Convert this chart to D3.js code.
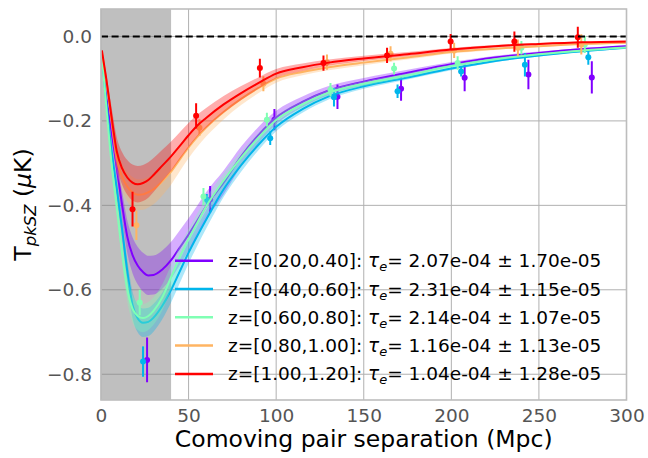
<!DOCTYPE html>
<html><head><meta charset="utf-8">
<script src="https://cdn.jsdelivr.net/npm/d3@7"></script>
<style>
html,body{margin:0;padding:0;background:#fff;}
svg{display:block;font-family:"DejaVu Sans",sans-serif;}
</style></head>
<body>
<svg id="chart" width="648" height="458"></svg>
<script>
// ---------- data ----------
const seriesNames = ["0.20,0.40", "0.40,0.60", "0.60,0.80", "0.80,1.00", "1.00,1.20"];
const seriesColors = ["#8000ff", "#00b5eb", "#80ffb4", "#ffb462", "#ff0000"];
const tau    = [2.07e-4, 2.31e-4, 2.14e-4, 1.16e-4, 1.04e-4];
const tauErr = [1.70e-5, 1.15e-5, 1.07e-5, 1.13e-5, 1.28e-5];

// model curves sampled at these separations (Mpc)
const curveX = [0.5, 3, 6, 9, 12, 15, 18, 21, 24, 27, 30, 35, 40, 45, 50, 55, 60, 70, 80, 90, 100, 115, 130, 150, 175, 200, 225, 250, 275, 300];
const curvePurple = [-0.040, -0.140, -0.225, -0.310, -0.398, -0.474, -0.518, -0.543, -0.558, -0.566, -0.565, -0.552, -0.530, -0.500, -0.469, -0.436, -0.402, -0.346, -0.284, -0.233, -0.192, -0.155, -0.128, -0.107, -0.086, -0.066, -0.050, -0.039, -0.030, -0.023];
const curveCyan   = [-0.045, -0.155, -0.268, -0.360, -0.455, -0.556, -0.636, -0.668, -0.678, -0.676, -0.666, -0.638, -0.600, -0.556, -0.512, -0.472, -0.434, -0.362, -0.305, -0.256, -0.214, -0.172, -0.142, -0.118, -0.097, -0.076, -0.058, -0.045, -0.035, -0.027];
const curveGreen  = [-0.045, -0.165, -0.300, -0.405, -0.510, -0.598, -0.645, -0.662, -0.667, -0.662, -0.650, -0.618, -0.570, -0.522, -0.480, -0.441, -0.403, -0.341, -0.287, -0.239, -0.198, -0.161, -0.133, -0.112, -0.092, -0.070, -0.054, -0.042, -0.033, -0.026];
const curveOrange = [-0.035, -0.105, -0.200, -0.290, -0.332, -0.356, -0.369, -0.375, -0.374, -0.369, -0.362, -0.343, -0.320, -0.291, -0.263, -0.238, -0.216, -0.179, -0.148, -0.122, -0.100, -0.084, -0.073, -0.062, -0.050, -0.037, -0.029, -0.023, -0.018, -0.015];
const curveRed    = [-0.033, -0.100, -0.190, -0.272, -0.312, -0.334, -0.346, -0.350, -0.347, -0.340, -0.328, -0.306, -0.284, -0.259, -0.234, -0.211, -0.193, -0.161, -0.134, -0.110, -0.088, -0.073, -0.062, -0.052, -0.042, -0.031, -0.023, -0.018, -0.014, -0.012];

// measured points with error bars
const ptsXPurple = [26.3, 62.3, 99.0, 135.0, 171.3, 207.6, 244.0, 280.2];
const ptsYPurple = [-0.766, -0.386, -0.197, -0.143, -0.124, -0.098, -0.090, -0.097];
const ptsEPurple = [0.053, 0.032, 0.025, 0.029, 0.028, 0.032, 0.035, 0.038];
const ptsXCyan = [24.0, 60.4, 96.6, 133.0, 169.3, 205.6, 242.0, 278.2];
const ptsYCyan = [-0.770, -0.387, -0.241, -0.144, -0.130, -0.083, -0.067, -0.049];
const ptsECyan = [0.036, 0.014, 0.016, 0.022, 0.016, 0.012, 0.028, 0.018];
const ptsXGreen = [22.1, 58.5, 94.7, 131.0, 167.3, 203.6, 240.0, 276.2];
const ptsYGreen = [-0.630, -0.379, -0.197, -0.126, -0.076, -0.063, -0.027, -0.019];
const ptsEGreen = [0.030, 0.020, 0.016, 0.016, 0.014, 0.016, 0.016, 0.020];
const ptsXOrange = [20.2, 56.2, 92.7, 129.0, 165.3, 201.6, 238.0, 274.2];
const ptsYOrange = [-0.447, -0.216, -0.112, -0.061, -0.041, -0.033, -0.027, -0.019];
const ptsEOrange = [0.035, 0.020, 0.018, 0.018, 0.018, 0.018, 0.020, 0.024];
const ptsXRed = [18.0, 54.3, 90.7, 127.0, 163.3, 199.6, 236.0, 272.2];
const ptsYRed = [-0.409, -0.188, -0.075, -0.063, -0.045, -0.012, -0.012, -0.002];
const ptsERed = [0.041, 0.030, 0.022, 0.018, 0.018, 0.018, 0.024, 0.025];

const xTicks = [0, 50, 100, 150, 200, 250, 300];
const yTicks = [0.0, -0.2, -0.4, -0.6, -0.8];
const shadedRange = [0, 40];

// ---------- build ----------
const curves = [curvePurple, curveCyan, curveGreen, curveOrange, curveRed];
const ptsX = [ptsXPurple, ptsXCyan, ptsXGreen, ptsXOrange, ptsXRed];
const ptsY = [ptsYPurple, ptsYCyan, ptsYGreen, ptsYOrange, ptsYRed];
const ptsE = [ptsEPurple, ptsECyan, ptsEGreen, ptsEOrange, ptsERed];

const svg = d3.select("#chart");
const L = 101, R = 626.5, T = 9, B = 400;
const x = d3.scaleLinear().domain([0, 300]).range([L, R]);
const y = d3.scaleLinear().domain([-0.861, 0.065]).range([B, T]);

svg.append("defs").append("clipPath").attr("id", "clip")
  .append("rect").attr("x", L).attr("y", T).attr("width", R - L).attr("height", B - T);

// grid
const grid = svg.append("g");
grid.selectAll(".gx").data(xTicks).join("line")
  .attr("x1", d => x(d)).attr("x2", d => x(d)).attr("y1", T).attr("y2", B)
  .attr("stroke", "#b0b0b0").attr("stroke-width", 1);
grid.selectAll(".gy").data(yTicks).join("line")
  .attr("y1", d => y(d)).attr("y2", d => y(d)).attr("x1", L).attr("x2", R)
  .attr("stroke", "#b0b0b0").attr("stroke-width", 1);

const plot = svg.append("g").attr("clip-path", "url(#clip)");

// shaded region
plot.append("rect")
  .attr("x", x(shadedRange[0])).attr("width", x(shadedRange[1]) - x(shadedRange[0]))
  .attr("y", T).attr("height", B - T)
  .attr("fill", "#808080").attr("fill-opacity", 0.5);

const line = d3.line().x(d => x(d[0])).y(d => y(d[1])).curve(d3.curveMonotoneX);
const area = d3.area().x(d => x(d[0])).y0(d => y(d[1])).y1(d => y(d[2])).curve(d3.curveMonotoneX);

curves.forEach((c, i) => {
  const frac = tauErr[i] / tau[i];
  const pts = curveX.map((xv, k) => [xv, c[k]]);
  const band = curveX.map((xv, k) => [xv, c[k] * (1 - frac), c[k] * (1 + frac)]);
  const g = plot.append("g");
  // error bars
  ptsX[i].forEach((xv, k) => {
    g.append("line").attr("x1", x(xv)).attr("x2", x(xv))
      .attr("y1", y(ptsY[i][k] - ptsE[i][k])).attr("y2", y(ptsY[i][k] + ptsE[i][k]))
      .attr("stroke", seriesColors[i]).attr("stroke-width", 2);
    g.append("circle").attr("cx", x(xv)).attr("cy", y(ptsY[i][k])).attr("r", 3)
      .attr("fill", seriesColors[i]);
  });
  g.append("path").datum(pts).attr("d", line)
    .attr("fill", "none").attr("stroke", seriesColors[i]).attr("stroke-width", 2);
  g.append("path").datum(band).attr("d", area)
    .attr("fill", seriesColors[i]).attr("fill-opacity", 0.32).attr("stroke", "none");
});

// zero line
plot.append("line").attr("x1", L).attr("x2", R).attr("y1", y(0)).attr("y2", y(0))
  .attr("stroke", "#000").attr("stroke-width", 1.9).attr("stroke-dasharray", "7,3.6");

// frame
svg.append("rect").attr("x", L).attr("y", T).attr("width", R - L).attr("height", B - T)
  .attr("fill", "none").attr("stroke", "#bdbdbd").attr("stroke-width", 1.6);

// axes
const xAxis = svg.append("g").attr("transform", `translate(0,${B})`)
  .call(d3.axisBottom(x).tickValues(xTicks).tickSize(0).tickPadding(9).tickFormat(d3.format("d")));
const yAxis = svg.append("g").attr("transform", `translate(${L},0)`)
  .call(d3.axisLeft(y).tickValues(yTicks).tickSize(0).tickPadding(9).tickFormat(d3.format(".1f")));
[xAxis, yAxis].forEach(a => {
  a.select(".domain").remove();
  a.selectAll("text").attr("fill", "#555").attr("font-size", 18.5)
    .attr("font-family", "DejaVu Sans, sans-serif");
});

// axis labels
svg.append("text").attr("x", (L + R) / 2).attr("y", 447).attr("text-anchor", "middle")
  .attr("font-size", 23.5).attr("fill", "#000").text("Comoving pair separation (Mpc)");
const yl = svg.append("text").attr("transform", `translate(31,${(T + B) / 2}) rotate(-90)`)
  .attr("text-anchor", "middle").attr("font-size", 23.5).attr("fill", "#000");
yl.append("tspan").text("T");
yl.append("tspan").attr("font-style", "italic").attr("font-size", 16.5).attr("dy", 5).text("pkSZ");
yl.append("tspan").attr("dy", -5).text(" (");
yl.append("tspan").attr("font-style", "italic").text("μ");
yl.append("tspan").text("K)");

// legend
const fmtE = v => {
  const [m, e] = v.toExponential(2).split("e");
  const sign = e[0] === "-" ? "-" : "+";
  const n = Math.abs(+e);
  return m + "e" + sign + (n < 10 ? "0" + n : n);
};
const legY0 = 260.7, legDy = 28.3;
seriesNames.forEach((nm, i) => {
  const yy = legY0 + i * legDy;
  svg.append("line").attr("x1", 175).attr("x2", 213).attr("y1", yy).attr("y2", yy)
    .attr("stroke", seriesColors[i]).attr("stroke-width", 2.5);
  const t = svg.append("text").attr("x", 228).attr("y", yy + 6.5)
    .attr("font-size", 18.5).attr("fill", "#000");
  t.append("tspan").text(`z=[${nm}]: `);
  t.append("tspan").attr("font-style", "italic").text("τ");
  t.append("tspan").attr("font-style", "italic").attr("font-size", 13).attr("dy", 4).text("e");
  t.append("tspan").attr("dy", -4).text(`= ${fmtE(tau[i])} ± ${fmtE(tauErr[i])}`);
});
</script>
</body></html>
